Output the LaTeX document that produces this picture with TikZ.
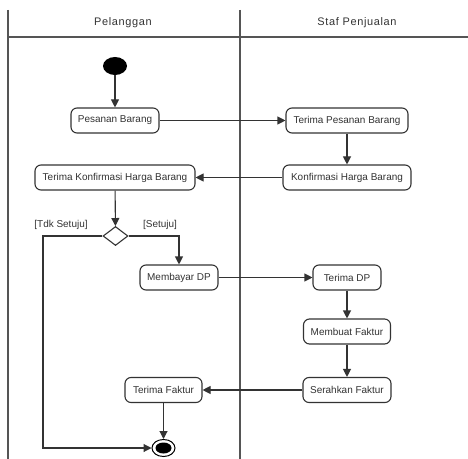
\documentclass[tikz,border=0pt]{standalone}
\usepackage{fontspec}
\setmainfont{Liberation Sans}
\newfontfamily\lanefont[LetterSpace=6]{Liberation Sans}
\usetikzlibrary{shapes.geometric,arrows.meta}
\definecolor{ink}{HTML}{333333}
\definecolor{frame}{HTML}{555555}
\tikzset{
  x=1bp, y=-1bp,
  lane/.style={draw=frame, line width=1.4bp},
  act/.style={draw=ink, line width=1.1bp, rounded corners=6bp, fill=white,
    minimum height=25bp, inner sep=0pt, text=ink, font=\fontsize{10}{12}\selectfont},
  flow/.style={draw=ink, line width=1.1bp, -{Triangle[length=8bp,width=8bp]}},
  guard/.style={text=ink, inner sep=0pt, font=\fontsize{10}{12}\selectfont},
  lanetitle/.style={text=ink, inner sep=0pt, font=\lanefont\fontsize{11}{13}\selectfont},
}
\begin{document}
\begin{tikzpicture}
\useasboundingbox (0,0) rectangle (468,459);
% swimlanes
\draw[lane] (8,10) -- (8,459);
\draw[lane] (240,10) -- (240,459);
\draw[lane] (8,37) -- (468,37);
\node[lanetitle] (hCust) at (123,23) {Pelanggan};
\node[lanetitle] (hStaff) at (357,23) {Staf Penjualan};

% initial and final states
\node[ellipse, fill=black, minimum width=24bp, minimum height=18bp, inner sep=0pt] (start) at (115,66) {};
\node[ellipse, draw=black, line width=1bp, fill=white, minimum width=23bp, minimum height=17bp, inner sep=0pt] (stop) at (163.5,448) {};
\node[ellipse, fill=black, minimum width=16bp, minimum height=11bp, inner sep=0pt] at (stop.center) {};

% activities: customer lane
\node[act, minimum width=88bp]  (order)   at (115,120.5) {Pesanan Barang};
\node[act, minimum width=160bp] (getconf) at (115,177.5) {Terima Konfirmasi Harga Barang};
\node[diamond, draw=ink, line width=1.1bp, fill=white, minimum width=25bp, minimum height=19bp, inner sep=0pt] (choice) at (115.5,236) {};
\node[act, minimum width=78bp]  (pay)     at (179,277.5) {Membayar DP};
\node[act, minimum width=77bp]  (getinv)  at (163.5,390) {Terima Faktur};

% activities: sales staff lane
\node[act, minimum width=122bp] (recv)    at (347,120.5) {Terima Pesanan Barang};
\node[act, minimum width=128bp] (conf)    at (347,177.5) {Konfirmasi Harga Barang};
\node[act, minimum width=68bp]  (recvdp)  at (347,277.5) {Terima DP};
\node[act, minimum width=87bp]  (mkinv)   at (347,331.5) {Membuat Faktur};
\node[act, minimum width=88bp]  (sendinv) at (347,390) {Serahkan Faktur};

% guards
\node[guard] (gno)  at (61,225) {[Tdk Setuju]};
\node[guard] (gyes) at (160,225) {[Setuju]};

% control flow
\draw[flow] (start) -- (order);
\draw[flow] (order) -- (recv);
\draw[flow] (recv) -- (conf);
\draw[flow] (conf) -- (getconf);
\draw[flow] (getconf) -- (choice);
\draw[flow] (choice.west) -- (43,236) -- (43,448) -- (stop.west);
\draw[flow] (choice.east) -| (pay.north);
\draw[flow] (pay) -- (recvdp);
\draw[flow] (recvdp) -- (mkinv);
\draw[flow] (mkinv) -- (sendinv);
\draw[flow] (sendinv) -- (getinv);
\draw[flow] (getinv) -- (stop);
\end{tikzpicture}
\end{document}
